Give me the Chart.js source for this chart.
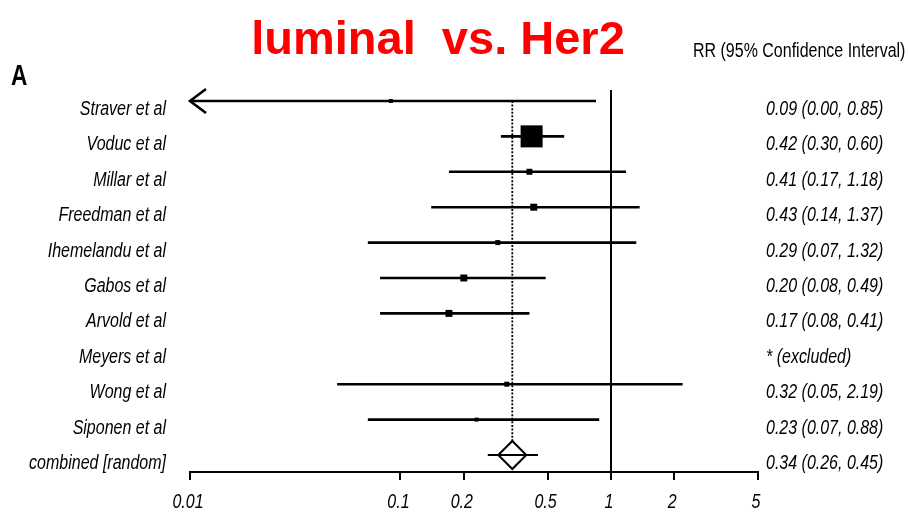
<!DOCTYPE html>
<html>
<head>
<meta charset="utf-8">
<script src="https://cdn.jsdelivr.net/npm/chart.js@4/dist/chart.umd.min.js"></script>
<style>
  html, body { margin: 0; padding: 0; background: #fff; }
  #wrap { position: relative; width: 908px; height: 512px; }
</style>
</head>
<body>
<div id="wrap"><canvas id="forest" width="908" height="512"></canvas></div>
<script>
// Studies, relative risks and 95% confidence limits (last row = pooled estimate)
const studies = ['Straver et al', 'Voduc et al', 'Millar et al', 'Freedman et al', 'Ihemelandu et al',
                 'Gabos et al', 'Arvold et al', 'Meyers et al', 'Wong et al', 'Siponen et al', 'combined [random]'];
const rr     = [0.09, 0.42, 0.41, 0.43, 0.29, 0.20, 0.17, null, 0.32, 0.23, 0.34];
const lower  = [0.00, 0.30, 0.17, 0.14, 0.07, 0.08, 0.08, null, 0.05, 0.07, 0.26];
const upper  = [0.85, 0.60, 1.18, 1.37, 1.32, 0.49, 0.41, null, 2.19, 0.88, 0.45];
// Approximate study weights (%), used for the marker areas
const weights = [2.1, 64.6, 4.8, 6.5, 3.3, 6.5, 6.5, null, 3.3, 2.1, null];

const xTickValues = [0.01, 0.1, 0.2, 0.5, 1, 2, 5];
const xTickLabels = ['0.01', '0.1', '0.2', '0.5', '1', '2', '5'];

const titleText = 'luminal  vs. Her2';
const panelLetter = 'A';
const rightHeader = 'RR (95% Confidence Interval)';

const X_MIN = xTickValues[0];
const X_MAX = xTickValues[xTickValues.length - 1];
const POOLED = studies.length - 1;
const FAMILY = '"Liberation Sans", Arial, sans-serif';
const LABEL_FONT = 'italic 20.5px ' + FAMILY;
const TEXT_SQUEEZE = 0.78;   // narrow lettering for labels
const SIZE_K = 2.74;         // marker side in px per sqrt(weight)

function rrText(i) {
  if (rr[i] == null) return '* (excluded)';
  return rr[i].toFixed(2) + ' (' + lower[i].toFixed(2) + ', ' + upper[i].toFixed(2) + ')';
}

// Confidence interval whiskers, one line per study
const ciSets = [];
rr.forEach((v, i) => {
  if (v == null) return;
  ciSets.push({
    data: [{ x: Math.max(lower[i], X_MIN), y: i }, { x: upper[i], y: i }],
    showLine: true,
    borderColor: '#000',
    borderWidth: i === POOLED ? 2 : 2.6,
    pointRadius: 0,
    order: 2
  });
});

const studyIdx = rr.map((v, i) => i).filter(i => i !== POOLED && rr[i] != null);

const markerSet = {
  data: studyIdx.map(i => ({ x: rr[i], y: i })),
  pointStyle: 'rect',
  pointRadius: studyIdx.map(i => Math.sqrt(weights[i]) * SIZE_K * Math.SQRT1_2),
  backgroundColor: '#000',
  borderColor: '#000',
  borderWidth: 0,
  order: 1
};

const diamondSet = {
  data: [{ x: rr[POOLED], y: POOLED }],
  pointStyle: 'rectRot',
  pointRadius: 14,
  backgroundColor: '#fff',
  borderColor: '#000',
  borderWidth: 2,
  order: 3
};

const pooledLine = {
  data: [{ x: rr[POOLED], y: 0 }, { x: rr[POOLED], y: POOLED }],
  showLine: true,
  borderColor: '#000',
  borderWidth: 1.8,
  borderDash: [2, 1.6],
  pointRadius: 0,
  order: 4
};

function drawNarrow(ctx, text, x, y, align, font) {
  ctx.save();
  ctx.font = font;
  ctx.textAlign = align;
  ctx.textBaseline = 'alphabetic';
  ctx.translate(x, y);
  ctx.scale(TEXT_SQUEEZE, 1);
  ctx.fillText(text, 0, 0);
  ctx.restore();
}

// Open arrow head where a lower limit runs off the axis
const arrowPlugin = {
  id: 'arrowHeads',
  afterDatasetsDraw(chart) {
    const { ctx, scales: { x, y } } = chart;
    rr.forEach((v, i) => {
      if (v == null || lower[i] >= X_MIN) return;
      const px = x.getPixelForValue(X_MIN), py = y.getPixelForValue(i);
      ctx.save();
      ctx.strokeStyle = '#000';
      ctx.lineWidth = 2.6;
      ctx.beginPath();
      ctx.moveTo(px + 16, py - 12);
      ctx.lineTo(px, py);
      ctx.lineTo(px + 16, py + 12);
      ctx.stroke();
      ctx.restore();
    });
  }
};

// Study names, RR column, axis numbers and headings
const textPlugin = {
  id: 'labels',
  afterDraw(chart) {
    const { ctx, chartArea, scales: { x, y } } = chart;
    ctx.save();
    ctx.fillStyle = '#000';
    studies.forEach((name, i) => {
      const py = y.getPixelForValue(i) + 14;
      drawNarrow(ctx, name, chartArea.left - 24, py, 'right', LABEL_FONT);
      drawNarrow(ctx, rrText(i), chartArea.right + 8, py, 'left', LABEL_FONT);
    });
    xTickValues.forEach((v, i) => {
      drawNarrow(ctx, xTickLabels[i], x.getPixelForValue(v) - 2, chartArea.bottom + 36, 'center', LABEL_FONT);
    });
    drawNarrow(ctx, panelLetter, 11, 85, 'left', 'bold 29px ' + FAMILY);
    drawNarrow(ctx, rightHeader, 693, 57, 'left', '20.5px ' + FAMILY);

    ctx.fillStyle = '#ff0000';
    ctx.font = 'bold 47px ' + FAMILY;
    ctx.textAlign = 'center';
    ctx.textBaseline = 'alphabetic';
    ctx.fillText(titleText, 438, 54);
    ctx.restore();
  }
};

const yCommon = {
  type: 'linear',
  reverse: true,
  min: -0.31,
  max: 10.48,
  afterBuildTicks: s => { s.ticks = studies.map((_, i) => ({ value: i })); },
  grid: { display: false, drawTicks: false },
  border: { display: false },
  ticks: { display: false }
};

new Chart(document.getElementById('forest'), {
  type: 'scatter',
  data: { datasets: [markerSet, ...ciSets, diamondSet, pooledLine] },
  options: {
    responsive: false,
    animation: false,
    devicePixelRatio: 1,
    layout: { padding: { top: 90, left: 0, right: 0, bottom: 0 } },
    plugins: { legend: { display: false }, tooltip: { enabled: false }, title: { display: false } },
    scales: {
      x: {
        type: 'logarithmic',
        min: X_MIN,
        max: X_MAX,
        afterBuildTicks: s => { s.ticks = xTickValues.map(v => ({ value: v })); },
        afterFit: s => { s.height = 40; },
        border: { display: true, color: '#000', width: 2 },
        grid: {
          color: c => (c.tick && c.tick.value === 1 ? '#000' : 'rgba(0,0,0,0)'),
          lineWidth: 2,
          drawTicks: true,
          tickLength: 8,
          tickColor: '#000',
          tickWidth: 2
        },
        ticks: { display: false }
      },
      y: Object.assign({}, yCommon, { position: 'left', afterFit: s => { s.width = 190; } }),
      y2: Object.assign({}, yCommon, { position: 'right', afterFit: s => { s.width = 150; } })
    }
  },
  plugins: [arrowPlugin, textPlugin]
});
</script>
</body>
</html>
